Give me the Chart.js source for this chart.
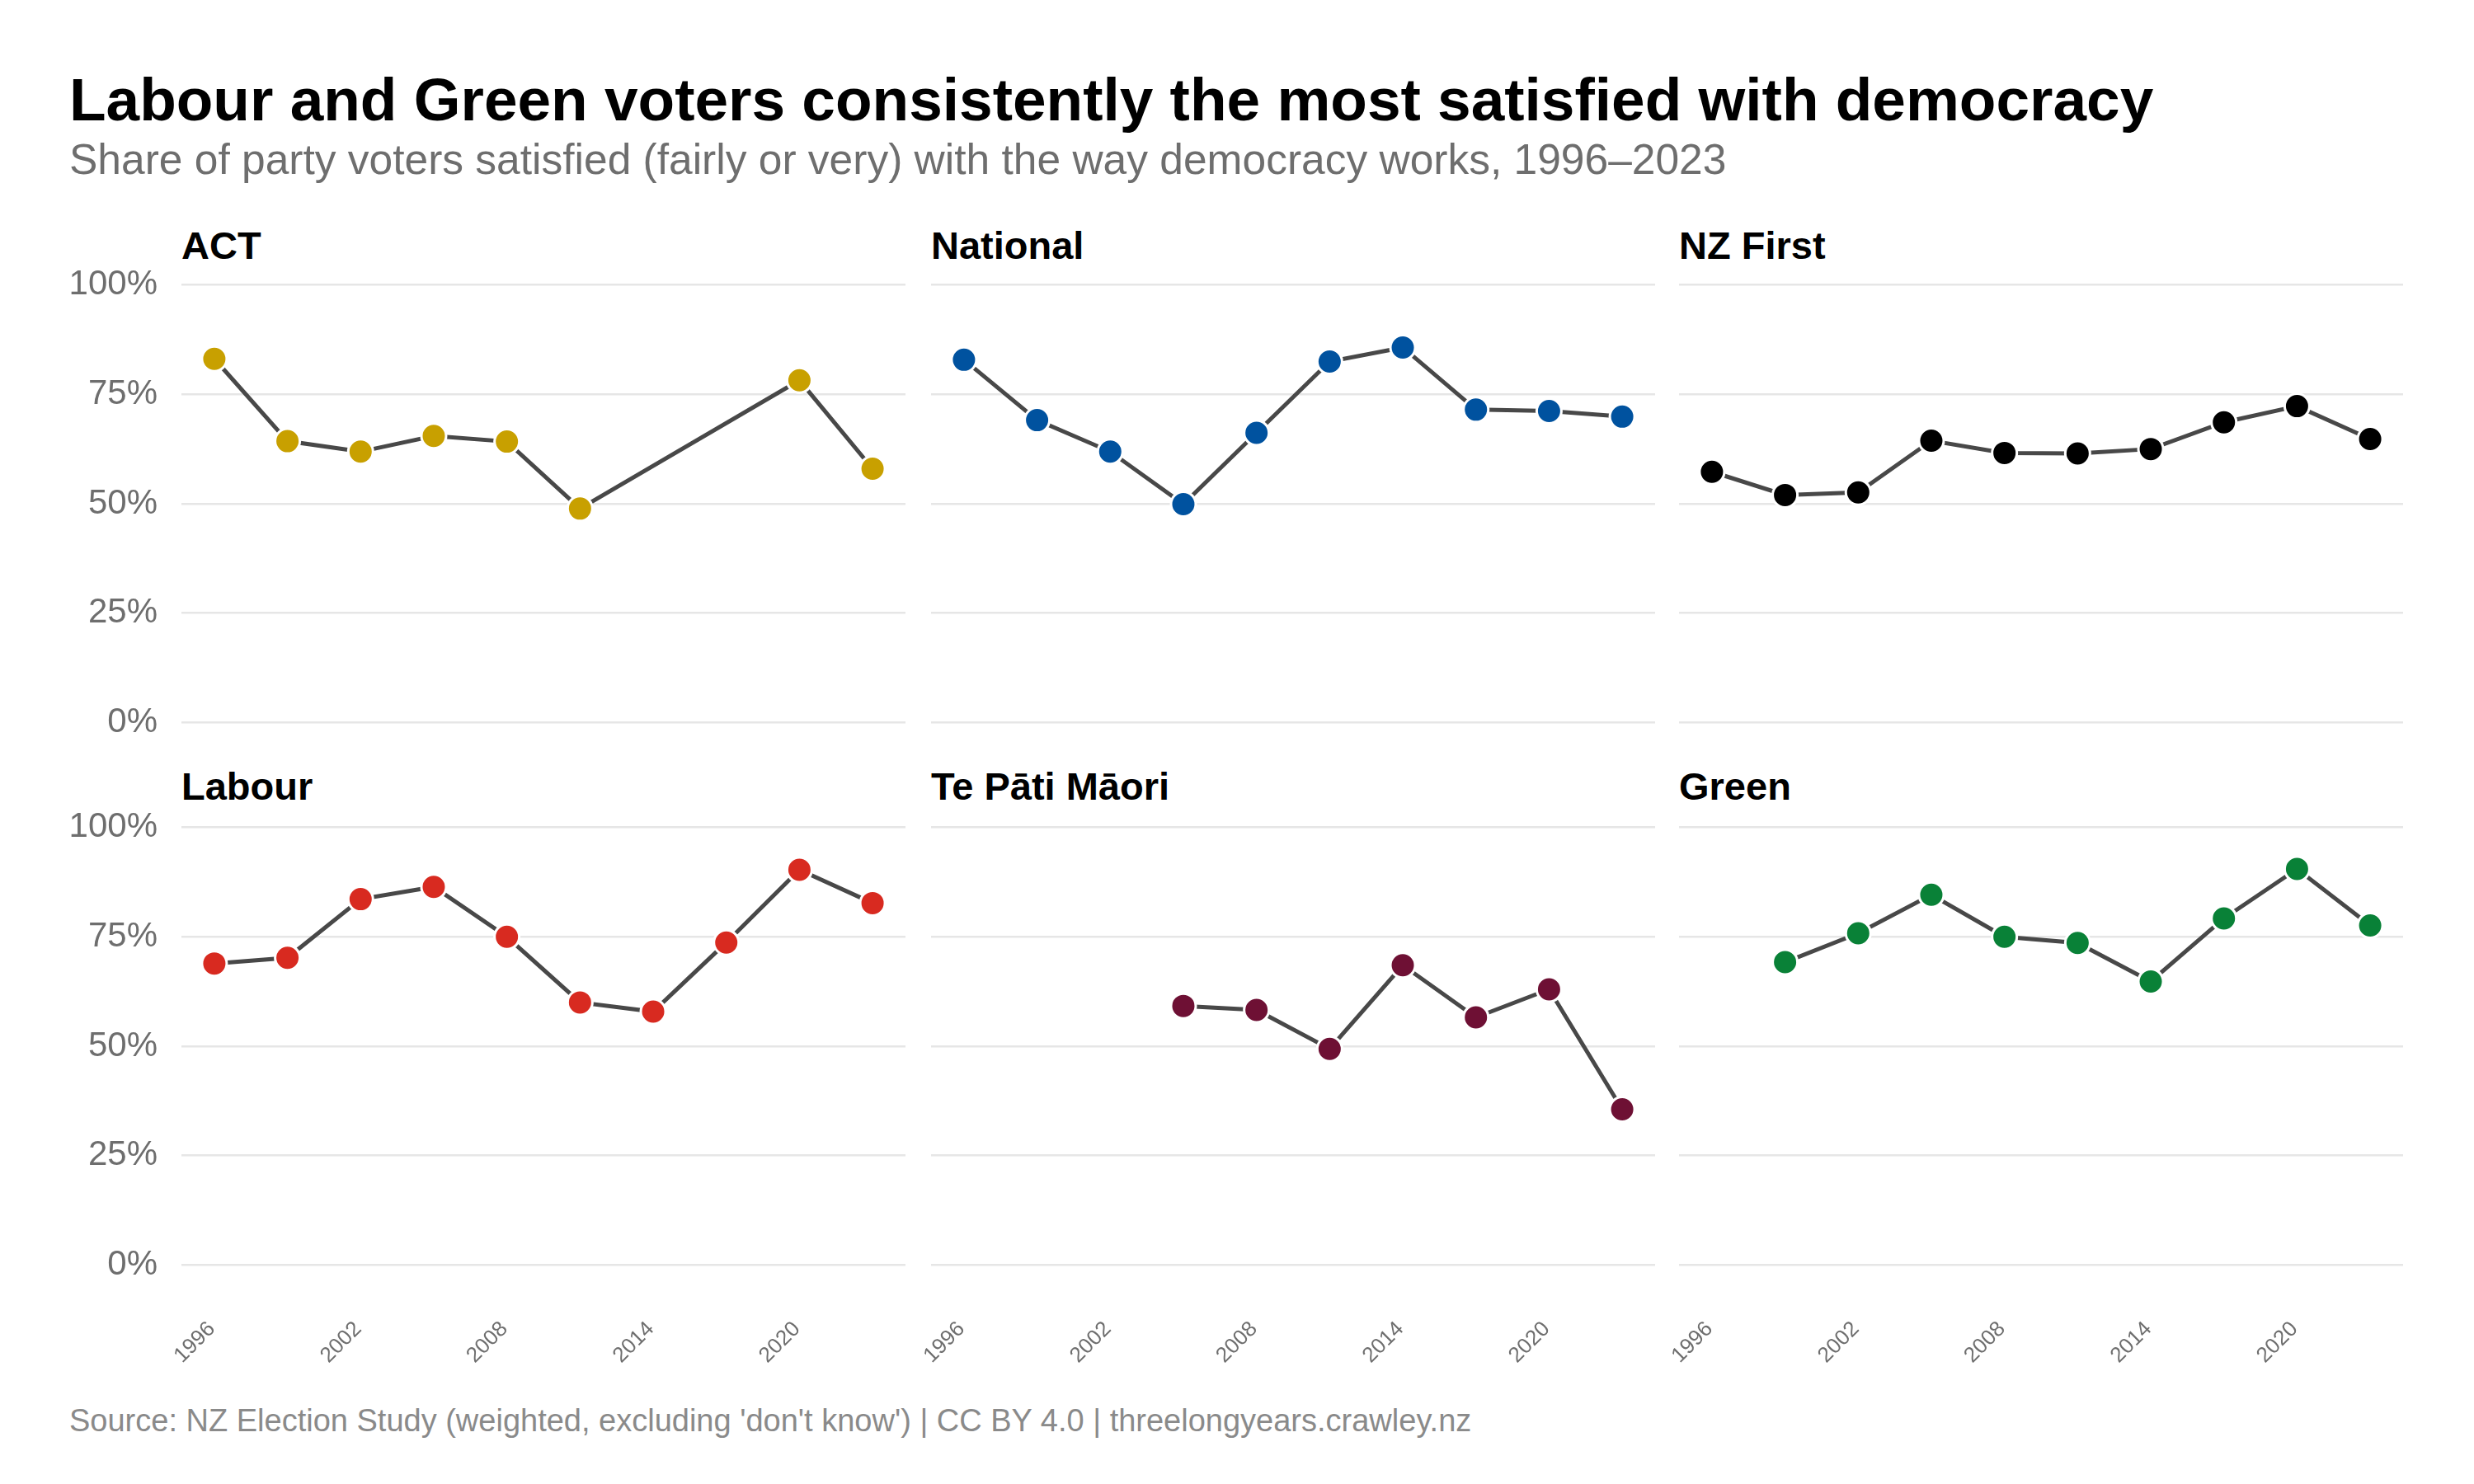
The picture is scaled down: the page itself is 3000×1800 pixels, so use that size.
<!DOCTYPE html>
<html>
<head>
<meta charset="utf-8">
<script src="https://cdn.jsdelivr.net/npm/chart.js@4.4.1/dist/chart.umd.min.js"></script>
<style>
  html, body { margin: 0; padding: 0; background: #fff; }
  #page { position: relative; width: 3000px; height: 1800px; background: #fff;
          font-family: "Liberation Sans", Arial, sans-serif; overflow: hidden; }
  .txt { position: absolute; white-space: nowrap; line-height: 1; }
  #title { left: 84px; top: 84px; font-size: 73px; font-weight: bold; color: #000; }
  #subtitle { left: 84px; top: 168px; font-size: 51.5px; color: #6e6e6e; }
  #caption { left: 84px; top: 1704px; font-size: 38px; color: #8a8a8a; }
  .ptitle { font-size: 47px; font-weight: bold; color: #000; }
  canvas { position: absolute; }
</style>
</head>
<body>
<div id="page">
  <div id="title" class="txt">Labour and Green voters consistently the most satisfied with democracy</div>
  <div id="subtitle" class="txt">Share of party voters satisfied (fairly or very) with the way democracy works, 1996–2023</div>
  <div id="caption" class="txt">Source: NZ Election Study (weighted, excluding 'don't know') | CC BY 4.0 | threelongyears.crawley.nz</div>
</div>
<script>
// données (% satisfaits)
const years = [1996, 1999, 2002, 2005, 2008, 2011, 2014, 2017, 2020, 2023];
const partyNames = ['ACT', 'National', 'NZ First', 'Labour', 'Te Pāti Māori', 'Green'];
const partyColours = ['#C8A000', '#00529F', '#000000', '#D82A20', '#6E1034', '#098137'];
const actValues = [83.1, 64.3, 61.9, 65.5, 64.2, 48.9, null, null, 78.2, 58.0];
const nationalValues = [82.9, 69.1, 61.9, 49.9, 66.2, 82.5, 85.7, 71.5, 71.2, 69.9];
const nzFirstValues = [57.3, 52.0, 52.6, 64.4, 61.6, 61.5, 62.5, 68.6, 72.3, 64.8];
const labourValues = [68.9, 70.2, 83.6, 86.4, 75.0, 60.0, 57.9, 73.7, 90.3, 82.7];
const maoriValues = [null, null, null, 59.2, 58.3, 49.4, 68.5, 56.6, 63.0, 35.6];
const greenValues = [null, 69.2, 75.8, 84.6, 75.0, 73.6, 64.8, 79.2, 90.5, 77.6];
const yTicks = [0, 25, 50, 75, 100];
const xTicks = [1996, 2002, 2008, 2014, 2020];

const allValues = [actValues, nationalValues, nzFirstValues, labourValues, maoriValues, greenValues];

// mise en page des panneaux
const colLeft = [220, 1129, 2036];
const panelWidth = 878;
const rowTop = [319, 977];
const panelHeight = 584;
const yAxisWidth = [140, 80, 80];   // la 1re colonne porte les étiquettes
const xAxisHeight = 110;
const titleTop = [274, 930];

const page = document.getElementById('page');

function makePanel(index) {
    const col = index % 3;
    const row = Math.floor(index / 3);
    const isLeft = col === 0;
    const isBottom = row === 1;

    const title = document.createElement('div');
    title.className = 'txt ptitle';
    title.textContent = partyNames[index];
    title.style.left = colLeft[col] + 'px';
    title.style.top = titleTop[row] + 'px';
    page.appendChild(title);

    const canvas = document.createElement('canvas');
    const extraLeft = yAxisWidth[col];
    const extraBottom = isBottom ? xAxisHeight : 0;
    canvas.width = panelWidth + extraLeft;
    canvas.height = panelHeight + extraBottom;
    canvas.style.left = (colLeft[col] - extraLeft) + 'px';
    canvas.style.top = rowTop[row] + 'px';
    page.appendChild(canvas);

    const points = years
        .map((year, i) => ({ x: year, y: allValues[index][i] }))
        .filter(p => p.y !== null);

    new Chart(canvas.getContext('2d'), {
        type: 'line',
        data: {
            datasets: [{
                data: points,
                borderColor: '#484848',
                borderWidth: 5,
                pointBackgroundColor: partyColours[index],
                pointBorderColor: '#ffffff',
                pointBorderWidth: 3,
                pointRadius: 15,
                tension: 0,
                clip: false
            }]
        },
        options: {
            responsive: false,
            animation: false,
            devicePixelRatio: 1,
            layout: { padding: 0, autoPadding: false },
            plugins: { legend: { display: false }, tooltip: { enabled: false }, title: { display: false } },
            scales: {
                x: {
                    type: 'linear',
                    min: 1994.65,
                    max: 2024.35,
                    grid: { display: false },
                    border: { display: false },
                    afterBuildTicks: (scale) => { scale.ticks = xTicks.map(v => ({ value: v })); },
                    afterFit: (scale) => {
                        scale.height = extraBottom;
                        scale.paddingLeft = 0;
                        scale.paddingRight = 0;
                    },
                    ticks: {
                        display: isBottom,
                        autoSkip: false,
                        minRotation: 45,
                        maxRotation: 45,
                        padding: 28,
                        labelOffset: -3,
                        color: '#6e6e6e',
                        font: { family: 'Liberation Sans', size: 26 },
                        callback: (v) => String(v)
                    }
                },
                y: {
                    min: -5,
                    max: 105,
                    grid: { color: '#e6e6e6', lineWidth: 2.5, drawTicks: false },
                    border: { display: false },
                    afterBuildTicks: (scale) => { scale.ticks = yTicks.map(v => ({ value: v })); },
                    afterFit: (scale) => {
                        scale.width = extraLeft;
                        scale.paddingTop = 0;
                        scale.paddingBottom = 0;
                    },
                    ticks: {
                        display: isLeft,
                        padding: 29,
                        color: '#6e6e6e',
                        font: { family: 'Liberation Sans', size: 42 },
                        callback: (v) => v + '%'
                    }
                }
            }
        }
    });
}

for (let i = 0; i < partyNames.length; i++) makePanel(i);
</script>
</body>
</html>
